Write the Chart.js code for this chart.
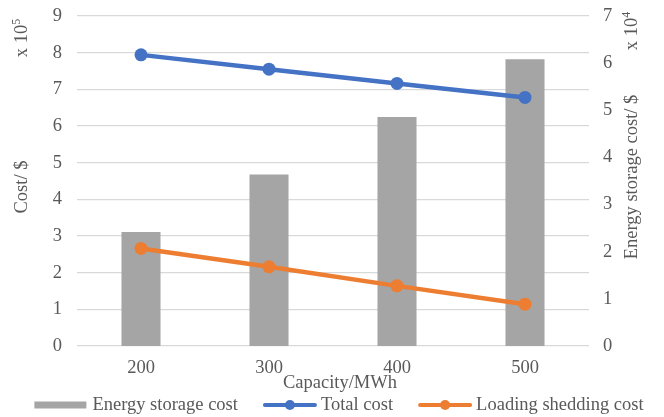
<!DOCTYPE html>
<html>
<head>
<meta charset="utf-8">
<script src="https://cdn.jsdelivr.net/npm/chart.js@4"></script>
<style>
  html, body { margin: 0; padding: 0; background: #fff; }
  #wrap { width: 664px; height: 417px; }
</style>
</head>
<body>
<div id="wrap"><canvas id="c" width="664" height="417"></canvas></div>
<script>
// Capacity categories (MWh)
const capacities = ['200', '300', '400', '500'];
// Energy storage cost, right axis, in units of 10^4 $
const storageCost = [2.42, 3.64, 4.86, 6.08];
// Total cost, left axis, in units of 10^5 $
const totalCost = [7.94, 7.55, 7.16, 6.78];
// Load shedding cost, left axis, in units of 10^5 $
const sheddingCost = [2.66, 2.16, 1.64, 1.14];

const seriesNames = ['Energy storage cost', 'Total cost', 'Loading shedding cost'];
const xTitle = 'Capacity/MWh';
const leftTitle = 'Cost/ $';
const rightTitle = 'Energy storage cost/ $';
const leftExp = '5';
const rightExp = '4';

const FONT = '"Liberation Serif", "Times New Roman", serif';
const FS = 18.5;
const TEXT = '#595959';
const GRAY = '#A5A5A5';
const BLUE = '#4472C4';
const ORANGE = '#ED7D31';
const GRID = '#D9D9D9';

function drawExp(ctx, x, y, exp) {
  // "x 10^n" written bottom-to-top
  ctx.save();
  ctx.translate(x, y);
  ctx.rotate(-Math.PI / 2);
  ctx.fillStyle = TEXT;
  ctx.textBaseline = 'middle';
  ctx.textAlign = 'left';
  ctx.font = FS + 'px ' + FONT;
  const base = 'x 10';
  const w = ctx.measureText(base).width;
  ctx.font = '12px ' + FONT;
  const we = ctx.measureText(exp).width;
  const start = -(w + we) / 2;
  ctx.font = FS + 'px ' + FONT;
  ctx.fillText(base, start, 0);
  ctx.font = '12px ' + FONT;
  ctx.fillText(exp, start + w, -5);
  ctx.restore();
}

const decor = {
  id: 'decor',
  afterDraw(chart) {
    const ctx = chart.ctx;
    const area = chart.chartArea;
    ctx.save();
    ctx.fillStyle = TEXT;
    ctx.font = FS + 'px ' + FONT;
    ctx.textBaseline = 'middle';
    ctx.textAlign = 'center';
    // x axis title
    ctx.fillText(xTitle, (area.left + area.right) / 2 + 7, 383);
    // left axis title
    ctx.save();
    ctx.translate(22, 187);
    ctx.rotate(-Math.PI / 2);
    ctx.fillText(leftTitle, 0, 0);
    ctx.restore();
    // right axis title
    ctx.save();
    ctx.translate(632, 177);
    ctx.rotate(-Math.PI / 2);
    ctx.fillText(rightTitle, 0, 0);
    ctx.restore();
    ctx.restore();

    drawExp(ctx, 22, 38, leftExp);
    drawExp(ctx, 632, 31, rightExp);

    // legend
    ctx.save();
    ctx.font = FS + 'px ' + FONT;
    ctx.textBaseline = 'middle';
    ctx.textAlign = 'left';
    const sw = 54, gapT = 4, gapI = 25, ly = 405;
    const items = chart.data.datasets.map(ds => ({
      label: ds.label, type: ds.type, color: ds.borderColor || ds.backgroundColor,
      w: ctx.measureText(ds.label).width
    }));
    const total = items.reduce((s, it) => s + sw + gapT + it.w, 0) + gapI * (items.length - 1);
    let x = 339 - total / 2;
    items.forEach(it => {
      if (it.type === 'bar') {
        ctx.fillStyle = it.color;
        ctx.fillRect(x, ly - 3.5, sw - 2, 7);
      } else {
        ctx.strokeStyle = it.color;
        ctx.lineWidth = 4;
        ctx.lineCap = 'round';
        ctx.beginPath();
        ctx.moveTo(x + 2, ly);
        ctx.lineTo(x + sw - 2, ly);
        ctx.stroke();
        ctx.fillStyle = it.color;
        ctx.beginPath();
        ctx.arc(x + sw / 2, ly, 5, 0, Math.PI * 2);
        ctx.fill();
      }
      ctx.fillStyle = TEXT;
      ctx.fillText(it.label, x + sw + gapT, ly);
      x += sw + gapT + it.w + gapI;
    });
    ctx.restore();
  }
};

// value axes: fixed width, no extra label padding above/below the plot
function fitValueAxis(width) {
  return function (s) {
    s.width = width;
    s.paddingTop = 0;
    s.paddingBottom = 0;
  };
}

new Chart(document.getElementById('c'), {
  data: {
    labels: capacities,
    datasets: [
      {
        type: 'bar', label: seriesNames[0], data: storageCost, yAxisID: 'y2',
        backgroundColor: GRAY, barPercentage: 0.305, categoryPercentage: 1, order: 3
      },
      {
        type: 'line', label: seriesNames[1], data: totalCost, yAxisID: 'y',
        borderColor: BLUE, backgroundColor: BLUE, borderWidth: 4.5, tension: 0,
        pointRadius: 6.5, pointBackgroundColor: BLUE, pointBorderWidth: 0, order: 1
      },
      {
        type: 'line', label: seriesNames[2], data: sheddingCost, yAxisID: 'y',
        borderColor: ORANGE, backgroundColor: ORANGE, borderWidth: 4.5, tension: 0,
        pointRadius: 6.5, pointBackgroundColor: ORANGE, pointBorderWidth: 0, order: 2
      }
    ]
  },
  options: {
    responsive: false,
    animation: false,
    events: [],
    layout: { padding: { top: 16, left: 0, right: 0, bottom: 0 } },
    plugins: { legend: { display: false }, tooltip: { enabled: false } },
    scales: {
      x: {
        grid: { display: false, drawTicks: false },
        border: { display: false },
        ticks: { color: TEXT, font: { family: FONT, size: FS }, padding: 11, maxRotation: 0 },
        afterFit(s) { s.height = 71; s.paddingLeft = 0; s.paddingRight = 0; }
      },
      y: {
        position: 'left', min: 0, max: 9,
        ticks: { stepSize: 1, color: TEXT, font: { family: FONT, size: FS }, padding: 15 },
        grid: { color: GRID, lineWidth: 1.3, drawTicks: false },
        border: { display: false },
        afterFit: fitValueAxis(77)
      },
      y2: {
        position: 'right', min: 0, max: 7,
        ticks: { stepSize: 1, color: TEXT, font: { family: FONT, size: FS }, padding: 14 },
        grid: { display: false, drawTicks: false },
        border: { display: false },
        afterFit: fitValueAxis(75)
      }
    }
  },
  plugins: [decor]
});
</script>
</body>
</html>
